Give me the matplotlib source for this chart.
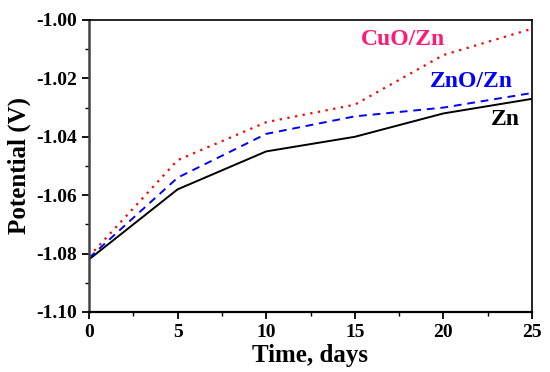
import matplotlib.pyplot as plt
from matplotlib.ticker import MultipleLocator

days = [0, 5, 10, 15, 20, 25]
zn = [-1.082, -1.058, -1.045, -1.040, -1.032, -1.027]
zno_zn = [-1.0815, -1.054, -1.039, -1.033, -1.030, -1.025]
cuo_zn = [-1.081, -1.048, -1.035, -1.029, -1.012, -1.003]

plt.rcParams['font.family'] = ['Liberation Serif', 'DejaVu Serif']
plt.rcParams['font.weight'] = 'bold'

fig = plt.figure(figsize=(5.5, 3.72), dpi=100)
ax = fig.add_axes([89/550, 1 - 312/372, (532-89)/550, (312-20)/372])

ax.plot(days, zn, color='black', lw=1.4, ls='-')
ax.plot(days, zno_zn, color='blue', lw=1.4, ls=(0, (4, 3)))
ax.plot(days, cuo_zn, color='red', lw=1.6, ls=(0, (1, 2.5)))

ax.text(17.7, -1.0068, 'CuO/Zn', color='#ff1a75', fontsize=17, fontweight='bold',
        ha='center', va='center')
ax.text(21.6, -1.0212, 'ZnO/Zn', color='blue', fontsize=17, fontweight='bold',
        ha='center', va='center')
ax.text(23.5, -1.0342, 'Zn', color='black', fontsize=17, fontweight='bold',
        ha='center', va='center')

ax.set_xlim(0, 25)
ax.set_ylim(-1.10, -1.00)
ax.xaxis.set_major_locator(MultipleLocator(5))
ax.xaxis.set_minor_locator(MultipleLocator(2.5))
ax.yaxis.set_major_locator(MultipleLocator(0.02))
ax.yaxis.set_minor_locator(MultipleLocator(0.01))
ax.yaxis.set_major_formatter(plt.FuncFormatter(lambda v, p: '%.2f' % v))

ax.tick_params(which='major', direction='out', length=5, width=1.3, labelsize=14)
ax.tick_params(which='minor', direction='out', length=3, width=1.0)
for lab in ax.get_xticklabels() + ax.get_yticklabels():
    lab.set_fontweight('bold')
for s in ax.spines.values():
    s.set_linewidth(1.2)
ax.spines['left'].set_color('#444444')
ax.spines['left'].set_linewidth(1.8)
ax.spines['bottom'].set_linewidth(1.6)

ax.set_xlabel('Time, days', fontsize=18, fontweight='bold', labelpad=2)
ax.set_ylabel('Potential (V)', fontsize=18, fontweight='bold', labelpad=4)

fig.savefig('out.png', dpi=100)
